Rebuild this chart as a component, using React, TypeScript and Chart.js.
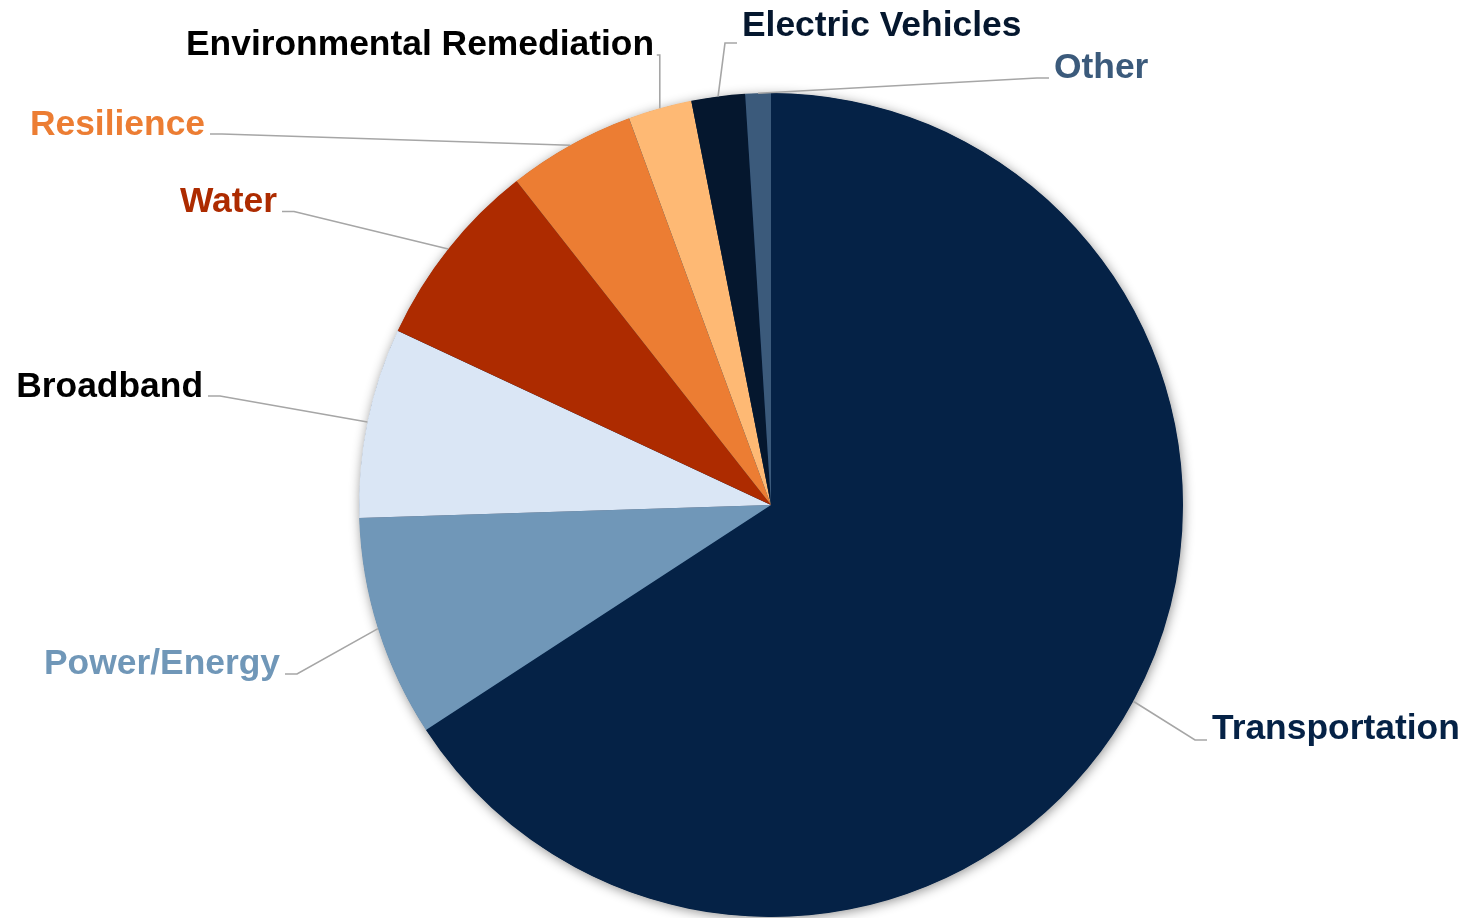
import React, { useEffect, useRef } from "react";
import { Chart, registerables } from "chart.js";

Chart.register(...registerables);

const categories = [
  "Transportation",
  "Power/Energy",
  "Broadband",
  "Water",
  "Resilience",
  "Environmental Remediation",
  "Electric Vehicles",
  "Other",
];

const shares = [65.8, 8.7, 7.45, 7.45, 5.0, 2.5, 2.1, 1.0];

const sliceColors = [
  "#052246",
  "#7097B8",
  "#DAE6F5",
  "#AD2B00",
  "#EC7D33",
  "#FEB974",
  "#05172E",
  "#3B5A7B",
];

const labelColors = [
  "#052246",
  "#7097B8",
  "#000000",
  "#AD2B00",
  "#EC7D33",
  "#000000",
  "#05172E",
  "#3B5A7B",
];

// label placement (text anchor x, text baseline y, alignment, leader attach y)
const labelLayout = [
  { x: 1212, y: 739, align: "left", lineY: 740 },
  { x: 280, y: 674, align: "right", lineY: 674 },
  { x: 203, y: 397, align: "right", lineY: 396 },
  { x: 277, y: 212, align: "right", lineY: 211.5 },
  { x: 205, y: 135, align: "right", lineY: 134 },
  { x: 654, y: 55, align: "right", lineY: 55 },
  { x: 742, y: 36, align: "left", lineY: 43 },
  { x: 1054, y: 78, align: "left", lineY: 78 },
];

const FONT = "bold 35.4px 'Liberation Sans', Arial, Helvetica, sans-serif";

const shadowPlugin = {
  id: "pieShadow",
  beforeDatasetsDraw(chart: any) {
    const meta = chart.getDatasetMeta(0);
    const arc = meta.data[0];
    if (!arc) return;
    const { x, y, outerRadius } = arc.getProps(["x", "y", "outerRadius"], true);
    const ctx = chart.ctx;
    ctx.save();
    ctx.shadowColor = "rgba(0,0,0,0.45)";
    ctx.shadowBlur = 12;
    ctx.shadowOffsetX = 1;
    ctx.shadowOffsetY = 2;
    ctx.beginPath();
    ctx.arc(x, y, outerRadius - 0.5, 0, Math.PI * 2);
    ctx.fillStyle = sliceColors[0];
    ctx.fill();
    ctx.restore();
  },
};

const labelPlugin = {
  id: "outsideLabels",
  afterDatasetsDraw(chart: any) {
    const ctx = chart.ctx;
    const meta = chart.getDatasetMeta(0);
    meta.data.forEach((arc: any, i: number) => {
      const p = arc.getProps(["x", "y", "startAngle", "endAngle", "outerRadius"], true);
      const mid = (p.startAngle + p.endAngle) / 2;
      const ax = p.x + p.outerRadius * Math.cos(mid);
      const ay = p.y + p.outerRadius * Math.sin(mid);
      const L = labelLayout[i];
      let elbowX: number;
      let endX: number;
      if (L.align === "left") {
        elbowX = Math.max(L.x - 17, ax);
        endX = Math.max(L.x - 5, elbowX + 3);
      } else {
        elbowX = Math.min(L.x + 17, ax);
        endX = Math.min(L.x + 5, elbowX - 3);
      }
      ctx.save();
      ctx.strokeStyle = "#A6A6A6";
      ctx.lineWidth = 1.6;
      ctx.beginPath();
      ctx.moveTo(ax, ay);
      ctx.lineTo(elbowX, L.lineY);
      ctx.lineTo(endX, L.lineY);
      ctx.stroke();
      ctx.font = FONT;
      ctx.fillStyle = labelColors[i];
      ctx.textAlign = L.align;
      ctx.textBaseline = "alphabetic";
      ctx.fillText(categories[i], L.x, L.y);
      ctx.restore();
    });
  },
};

export default function App() {
  const ref = useRef<HTMLCanvasElement | null>(null);
  useEffect(() => {
    if (!ref.current) return;
    const chart = new Chart(ref.current, {
      type: "pie",
      data: {
        labels: categories,
        datasets: [
          {
            data: shares,
            backgroundColor: sliceColors,
            borderWidth: 0,
          },
        ],
      },
      options: {
        animation: false,
        responsive: false,
        events: [],
        layout: { padding: { left: 359, right: 285, top: 93, bottom: 1 } },
        plugins: {
          legend: { display: false },
          tooltip: { enabled: false },
        },
      },
      plugins: [shadowPlugin, labelPlugin],
    });
    return () => chart.destroy();
  }, []);
  return (
    <div style={{ position: "fixed", left: 0, top: 0, width: 1468, height: 918, background: "#fff" }}>
      <canvas ref={ref} width={1468} height={918} style={{ display: "block" }} />
    </div>
  );
}
